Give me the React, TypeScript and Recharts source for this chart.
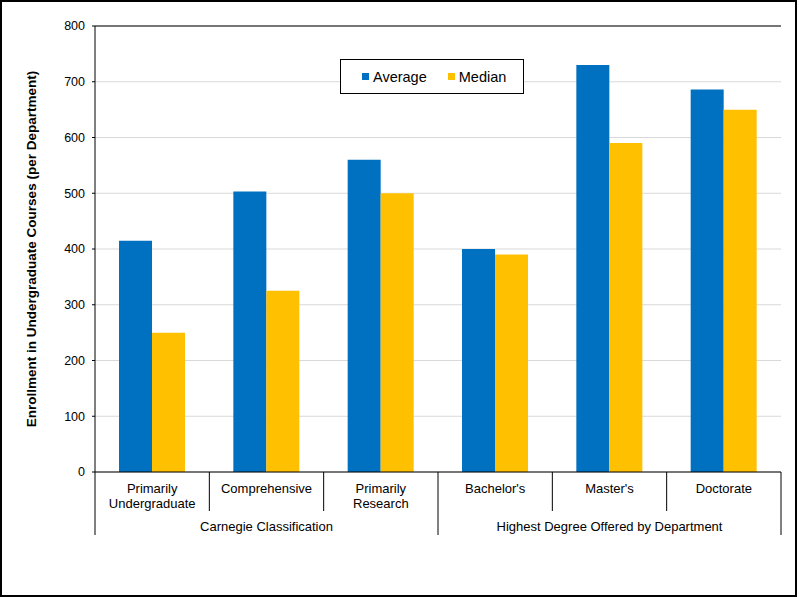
import React from 'react';
import {
  BarChart,
  Bar,
  XAxis,
  YAxis,
  CartesianGrid,
  Legend,
  ReferenceLine,
} from 'recharts';

const categories = [
  'Primarily Undergraduate',
  'Comprehensive',
  'Primarily Research',
  "Bachelor's",
  "Master's",
  'Doctorate',
];
const tickLines = [
  ['Primarily', 'Undergraduate'],
  ['Comprehensive'],
  ['Primarily', 'Research'],
  ["Bachelor's"],
  ["Master's"],
  ['Doctorate'],
];
const groupLabels: Record<number, string> = {
  1: 'Carnegie Classification',
  4: 'Highest Degree Offered by Department',
};
const average = [415, 503, 560, 400, 730, 686];
const median = [250, 325, 500, 390, 590, 650];
const yTicks = [0, 100, 200, 300, 400, 500, 600, 700, 800];

const BLUE = '#0070C0';
const YELLOW = '#FFC000';
const FONT = '"Liberation Sans", Arial, sans-serif';

const WIDTH = 793;
const HEIGHT = 593;
const Y_AXIS_W = 93;
// the legend box still reserves its height at the bottom, hence the small bottom margin
const MARGIN = { top: 24, right: 14, bottom: 18, left: 0 };
const BAND = (WIDTH - Y_AXIS_W - MARGIN.left - MARGIN.right) / categories.length;

const data = categories.map((name, i) => ({
  name,
  Average: average[i],
  Median: median[i],
}));

const CategoryTick = (props: any) => {
  const { x, y, index, payload } = props;
  const half = payload && payload.offset ? payload.offset : BAND / 2;
  const lines = tickLines[index] || [];
  const longRight = index === 2 || index === 5;
  const group = groupLabels[index];
  return (
    <g>
      <text x={x} y={y} textAnchor="middle" fontSize={13} fill="#000" fontFamily={FONT}>
        {lines.map((l, k) => (
          <tspan key={k} x={x} dy={k === 0 ? 21 : 14.5}>
            {l}
          </tspan>
        ))}
      </text>
      <line x1={x + half} x2={x + half} y1={y} y2={y + (longRight ? 63 : 39)} stroke="#000" />
      {index === 0 && <line x1={x - half} x2={x - half} y1={y} y2={y + 63} stroke="#000" />}
      {group && (
        <text x={x} y={y + 59} textAnchor="middle" fontSize={13} fill="#000" fontFamily={FONT}>
          {group}
        </text>
      )}
    </g>
  );
};

const renderYTitle = (p: any) => {
  const vb = p.viewBox || {};
  const cx = 29;
  const cy = (vb.y || 0) + (vb.height || 0) / 2;
  return (
    <text
      x={cx}
      y={cy}
      transform={`rotate(-90, ${cx}, ${cy})`}
      textAnchor="middle"
      dominantBaseline="central"
      fontSize={13.5}
      fontWeight="bold"
      fill="#000"
      fontFamily={FONT}
    >
      Enrollment in Undergraduate Courses (per Department)
    </text>
  );
};

const renderLegend = () => {
  const items = [
    { label: 'Average', color: BLUE },
    { label: 'Median', color: YELLOW },
  ];
  return (
    <div
      style={{
        boxSizing: 'border-box',
        width: 184,
        height: 35,
        border: '1px solid #000',
        background: '#fff',
        display: 'flex',
        alignItems: 'center',
        paddingLeft: 21,
        fontFamily: FONT,
        fontSize: 14.5,
        color: '#000',
      }}
    >
      {items.map((it, i) => (
        <span key={it.label} style={{ display: 'flex', alignItems: 'center', marginRight: i === 0 ? 21 : 0 }}>
          <span style={{ width: 7, height: 7, background: it.color, marginRight: 4, display: 'inline-block' }} />
          {it.label}
        </span>
      ))}
    </div>
  );
};

export default function App() {
  return (
    <div
      style={{
        position: 'absolute',
        left: 0,
        top: 0,
        width: 797,
        height: 597,
        boxSizing: 'border-box',
        border: '2px solid #000',
        background: '#fff',
      }}
    >
      <BarChart
        width={WIDTH}
        height={HEIGHT}
        data={data}
        margin={MARGIN}
        barGap={0}
        barCategoryGap="21%"
      >
        <CartesianGrid vertical={false} stroke="#D9D9D9" />
        <XAxis
          dataKey="name"
          height={70}
          interval={0}
          tickLine={false}
          tickSize={0}
          tickMargin={0}
          axisLine={{ stroke: '#000' }}
          tick={<CategoryTick />}
        />
        <YAxis
          width={Y_AXIS_W}
          domain={[0, 800]}
          ticks={yTicks}
          interval={0}
          tickSize={3}
          tickMargin={7}
          axisLine={{ stroke: '#000' }}
          tickLine={{ stroke: '#000' }}
          tick={{ fill: '#000', fontSize: 12.5, fontFamily: FONT }}
          label={renderYTitle}
        />
        <YAxis
          yAxisId="right"
          orientation="right"
          width={0}
          domain={[0, 800]}
          tick={false}
          tickLine={false}
          axisLine={{ stroke: '#000' }}
        />
        <ReferenceLine y={800} stroke="#000" />
        <Legend
          content={renderLegend}
          wrapperStyle={{ position: 'absolute', left: 338, top: 57, width: 184, height: 35 }}
        />
        <Bar dataKey="Average" fill={BLUE} isAnimationActive={false} />
        <Bar dataKey="Median" fill={YELLOW} isAnimationActive={false} />
      </BarChart>
    </div>
  );
}
